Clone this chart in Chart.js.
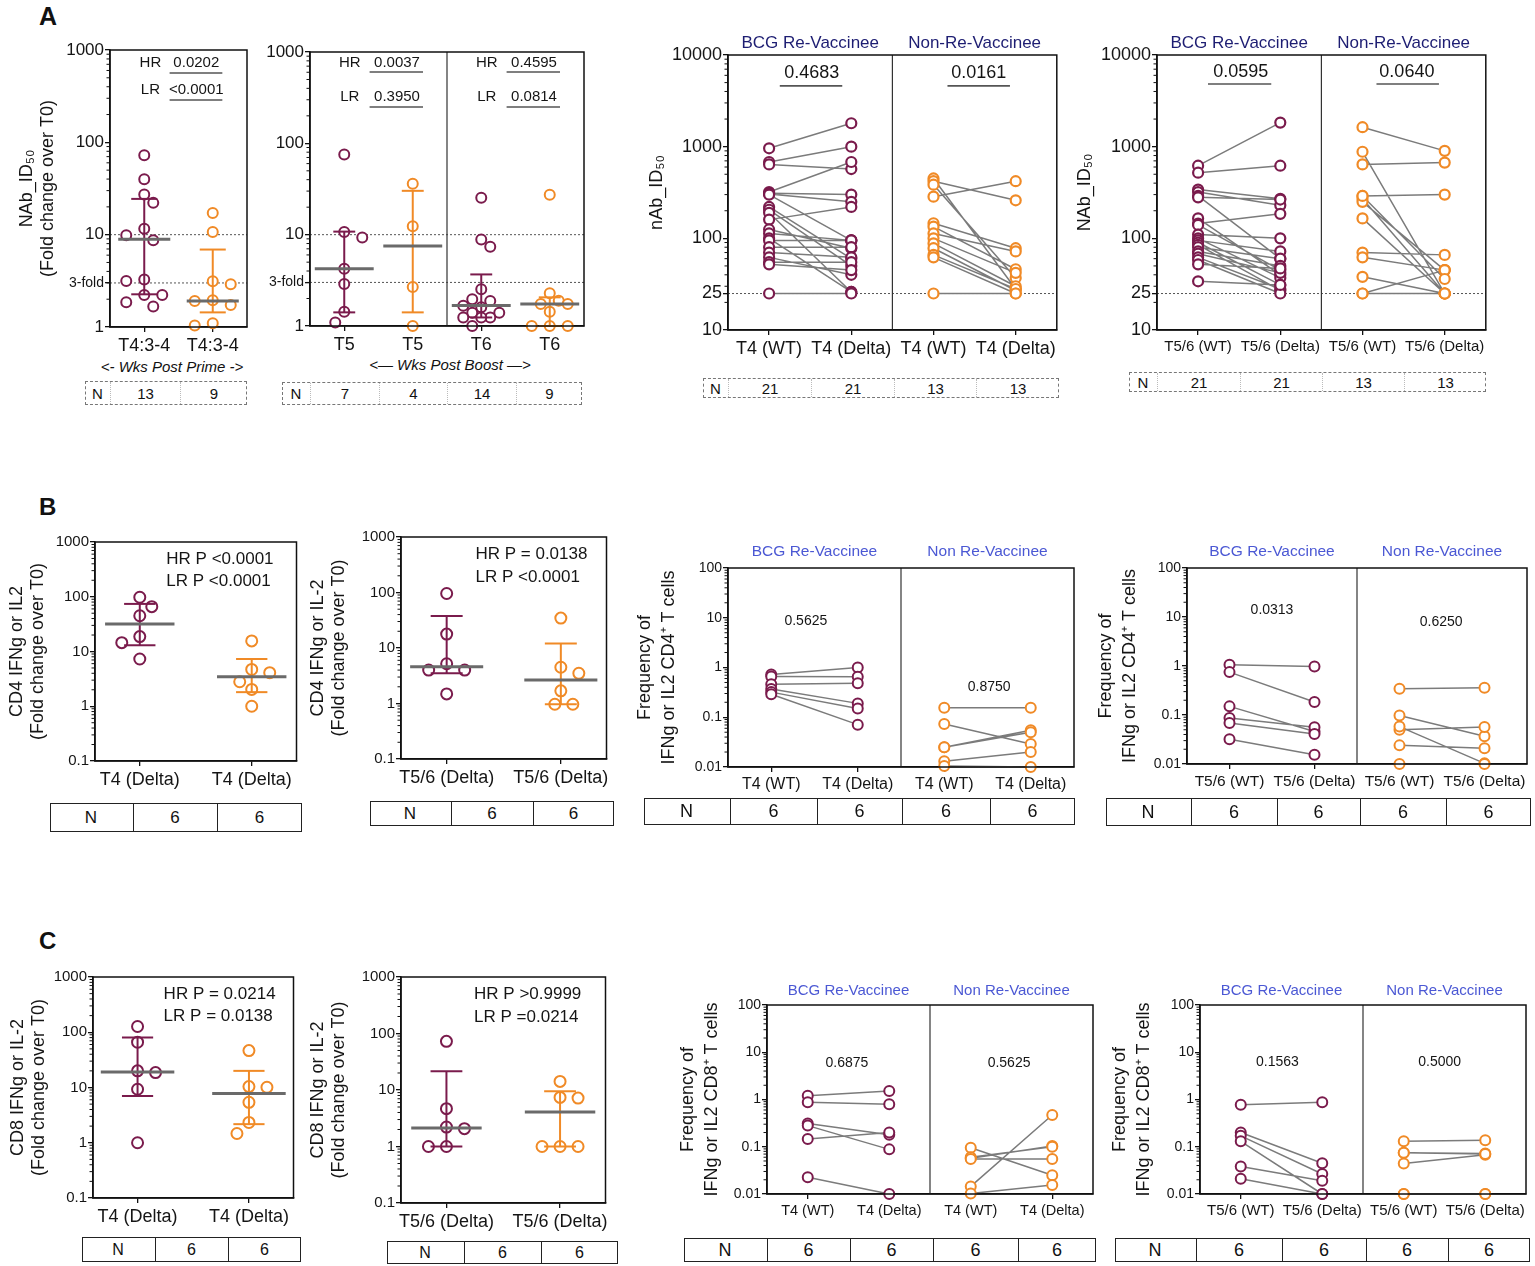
<!DOCTYPE html>
<html>
<head>
<meta charset="utf-8">
<title>Figure</title>
<script src="https://cdn.jsdelivr.net/npm/chart.js@4.4.1/dist/chart.umd.min.js"></script>
<style>
html,body{margin:0;padding:0;background:#fff;}
body{position:relative;width:1535px;height:1266px;overflow:hidden;font-family:"Liberation Sans",Arial,Helvetica,sans-serif;color:#111;}
canvas{position:absolute;}
.txt{position:absolute;white-space:nowrap;line-height:1;}
.letter{font-weight:bold;}
.ntab{position:absolute;box-sizing:border-box;}
.ntab div{position:absolute;top:0;box-sizing:border-box;display:flex;align-items:center;justify-content:center;height:100%;}
</style>
</head>
<body>
<div class="txt letter" style="left:39px;top:4px;font-size:25px;">A</div>
<div class="txt letter" style="left:39px;top:495px;font-size:24px;">B</div>
<div class="txt letter" style="left:39px;top:929px;font-size:24px;">C</div>
<div class="txt" style="left:92px;top:359px;width:160px;text-align:center;font-style:italic;font-size:15px;">&lt;- Wks Post Prime -&gt;</div>
<div class="txt" style="left:350px;top:357px;width:200px;text-align:center;font-style:italic;font-size:15px;">&lt;— Wks Post Boost —&gt;</div>
<script>
// ---------------- DATA ----------------
// Panel A1 (NAb fold change, post prime)
const a1Categories = ['T4:3-4', 'T4:3-4'];
const a1TickValues = [1, 3, 10, 100, 1000];
const a1TickLabels = ['1', '3-fold', '10', '100', '1000'];
const a1Bcg = [72.6, 39.9, 27.2, 22.1, 11.6, 9.86, 8.7, 3.26, 3.15, 2.22, 2.22, 1.85, 1.67];
const a1Non = [17.2, 10.7, 3.13, 2.9, 1.95, 1.91, 1.73, 1.1, 1.04];
const a1Median = [8.9, 1.91];
const a1Lo = [2.26, 1.44];
const a1Hi = [24.4, 6.9];
const a1N = ['N', '13', '9'];

// Panel A2 (NAb fold change, post boost)
const a2Categories = ['T5', 'T5', 'T6', 'T6'];
const a2T5Bcg = [75.4, 10.7, 9.3, 4.24, 2.88, 1.43, 1.09];
const a2T5Non = [36, 12.4, 2.67, 1.0];
const a2T6Bcg = [25.3, 8.87, 7.38, 2.52, 1.96, 1.88, 1.67, 1.6, 1.4, 1.4, 1.24, 1.24, 1.24, 1.0];
const a2T6Non = [27.3, 2.28, 1.89, 1.74, 1.74, 1.43, 1.0, 1.0, 1.0];
const a2Median = [4.24, 7.5, 1.68, 1.74];
const a2Lo = [1.41, 1.41, 1.24, 1.0];
const a2Hi = [10.8, 30.2, 3.67, 2.06];
const a2N = ['N', '7', '4', '14', '9'];

// Panel A3 (nAb ID50, T4 WT vs Delta)
const a3Categories = ['T4 (WT)', 'T4 (Delta)', 'T4 (WT)', 'T4 (Delta)'];
const a3TickValues = [10, 25, 100, 1000, 10000];
const a3TickLabels = ['10', '25', '100', '1000', '10000'];
const a3BcgWT    = [960, 680, 640, 320, 310, 305, 300, 220, 205, 190, 160, 125, 113, 100, 95, 80, 70, 62, 55, 52, 25];
const a3BcgDelta = [1800, 1000, 570, 680, 300, 250, 95, 60, 50, 26, 220, 78, 95, 26, 95, 80, 62, 40, 55, 45, 25];
const a3NonWT    = [285, 450, 420, 385, 146, 134, 113, 100, 88, 78, 66, 62, 25];
const a3NonDelta = [420, 28, 260, 37, 78, 46, 72, 42, 30, 27, 28, 25, 25];
const a3N = ['N', '21', '21', '13', '13'];

// Panel A4 (NAb ID50, T5/6 WT vs Delta)
const a4Categories = ['T5/6 (WT)', 'T5/6 (Delta)', 'T5/6 (WT)', 'T5/6 (Delta)'];
const a4BcgWT    = [620, 520, 340, 320, 290, 280, 165, 145, 140, 110, 100, 95, 90, 85, 80, 72, 68, 62, 58, 52, 34];
const a4BcgDelta = [1830, 620, 270, 230, 60, 265, 40, 185, 45, 100, 37, 72, 31, 27, 60, 50, 42, 28, 25, 47, 31];
const a4NonWT    = [1630, 880, 640, 290, 270, 250, 165, 70, 62, 38, 25, 25, 290];
const a4NonDelta = [900, 25, 670, 300, 25, 45, 25, 66, 45, 25, 45, 25, 36];
const a4N = ['N', '21', '21', '13', '13'];

// Row B/C shared ticks
const foldTickValues = [0.1, 1, 10, 100, 1000];
const foldTickLabels = ['0.1', '1', '10', '100', '1000'];
const freqTickValues = [0.01, 0.1, 1, 10, 100];
const freqTickLabels = ['0.01', '0.1', '1', '10', '100'];

// Panel B1 (CD4 fold change, T4)
const b1Categories = ['T4 (Delta)', 'T4 (Delta)'];
const b1Bcg = [98, 66, 45, 18.7, 14.5, 7.3];
const b1Non = [15.6, 4.7, 4.1, 2.8, 2.03, 1.0];
const b1Median = [31.9, 3.46];
const b1Lo = [13, 1.81];
const b1Hi = [74, 7.3];
const b1N = ['N', '6', '6'];

// Panel B2 (CD4 fold change, T5/6)
const b2Categories = ['T5/6 (Delta)', 'T5/6 (Delta)'];
const b2Bcg = [96, 17.8, 5.2, 4.0, 4.0, 1.49];
const b2Non = [34.6, 4.5, 3.5, 1.69, 0.97, 0.97];
const b2Median = [4.6, 2.66];
const b2Lo = [3.5, 0.97];
const b2Hi = [37.6, 12.1];
const b2N = ['N', '6', '6'];

// Panel B3 (CD4 frequency, T4)
const b3Categories = ['T4 (WT)', 'T4 (Delta)', 'T4 (WT)', 'T4 (Delta)'];
const b3BcgWT    = [0.72, 0.66, 0.46, 0.37, 0.32, 0.29];
const b3BcgDelta = [1.0, 0.65, 0.48, 0.19, 0.15, 0.071];
const b3NonWT    = [0.155, 0.073, 0.025, 0.025, 0.013, 0.0105];
const b3NonDelta = [0.155, 0.029, 0.055, 0.05, 0.02, 0.01];
const b3N = ['N', '6', '6', '6', '6'];

// Panel B4 (CD4 frequency, T5/6)
const b4Categories = ['T5/6 (WT)', 'T5/6 (Delta)', 'T5/6 (WT)', 'T5/6 (Delta)'];
const b4BcgWT    = [1.06, 0.75, 0.15, 0.087, 0.069, 0.032];
const b4BcgDelta = [0.98, 0.184, 0.046, 0.056, 0.041, 0.0155];
const b4NonWT    = [0.345, 0.098, 0.05, 0.058, 0.024, 0.01];
const b4NonDelta = [0.36, 0.037, 0.057, 0.0103, 0.021, 0.01];
const b4N = ['N', '6', '6', '6', '6'];

// Panel C1 (CD8 fold change, T4)
const c1Categories = ['T4 (Delta)', 'T4 (Delta)'];
const c1Bcg = [127, 66, 20, 18.6, 9.3, 1.0];
const c1Non = [46.6, 10.4, 10.1, 5.4, 2.33, 1.47];
const c1Median = [19.1, 7.8];
const c1Lo = [7.0, 2.17];
const c1Hi = [80, 20];
const c1N = ['N', '6', '6'];

// Panel C2 (CD8 fold change, T5/6)
const c2Categories = ['T5/6 (Delta)', 'T5/6 (Delta)'];
const c2Bcg = [72.7, 4.67, 2.21, 2.07, 1.0, 1.0];
const c2Non = [14.2, 7.4, 7.2, 1.0, 1.0, 1.0];
const c2Median = [2.12, 4.08];
const c2Lo = [1.0, 1.0];
const c2Hi = [21.4, 9.5];
const c2N = ['N', '6', '6'];

// Panel C3 (CD8 frequency, T4)
const c3Categories = ['T4 (WT)', 'T4 (Delta)', 'T4 (WT)', 'T4 (Delta)'];
const c3BcgWT    = [1.2, 0.87, 0.31, 0.28, 0.146, 0.0225];
const c3BcgDelta = [1.51, 0.79, 0.18, 0.088, 0.2, 0.01];
const c3NonWT    = [0.095, 0.057, 0.06, 0.055, 0.0145, 0.0102];
const c3NonDelta = [0.025, 0.104, 0.1, 0.055, 0.47, 0.0155];
const c3N = ['N', '6', '6', '6', '6'];

// Panel C4 (CD8 frequency, T5/6)
const c4Categories = ['T5/6 (WT)', 'T5/6 (Delta)', 'T5/6 (WT)', 'T5/6 (Delta)'];
const c4BcgWT    = [0.77, 0.2, 0.17, 0.13, 0.038, 0.021];
const c4BcgDelta = [0.87, 0.0446, 0.0265, 0.01, 0.019, 0.01];
const c4NonWT    = [0.13, 0.075, 0.044, 0.01, 0.01, 0.075];
const c4NonDelta = [0.137, 0.072, 0.068, 0.01, 0.01, 0.07];
const c4N = ['N', '6', '6', '6', '6'];

// ---------------- STYLE ----------------
const FONT = '"Liberation Sans", Arial, Helvetica, sans-serif';
const MAROON = '#7a1b4c';
const ORANGE = '#f08a26';
const NAVY = '#1d1d72';
const BLUE = '#4b58d4';
Chart.defaults.font.family = FONT;
Chart.defaults.color = '#111';

function seg(ctx, x1, y1, x2, y2) { ctx.beginPath(); ctx.moveTo(x1, y1); ctx.lineTo(x2, y2); ctx.stroke(); }

function decor(p) {
  return {
    id: 'decor_' + p.id,
    beforeDatasetsDraw(chart) {
      const { ctx, chartArea: a, scales: { x, y } } = chart;
      ctx.save();
      ctx.lineWidth = 1; ctx.strokeStyle = '#555'; ctx.setLineDash([2, 2]);
      (p.refLines || []).forEach(v => { const py = y.getPixelForValue(v); seg(ctx, a.left, py, a.right, py); });
      ctx.setLineDash([]);
      ctx.strokeStyle = '#333'; ctx.lineWidth = 1.2;
      (p.dividers || []).forEach(v => { const px = x.getPixelForValue(v); seg(ctx, px, a.top, px, a.bottom); });
      ctx.restore();
    },
    afterDatasetsDraw(chart) {
      const { ctx, chartArea: a, scales: { x, y } } = chart;
      const unit = x.getPixelForValue(1) - x.getPixelForValue(0);
      ctx.save();
      // error bars and medians
      (p.groups || []).forEach(g => {
        if (g.med == null) return;
        const cx = x.getPixelForValue(g.cat);
        const yl = y.getPixelForValue(g.lo), yh = y.getPixelForValue(g.hi), ym = y.getPixelForValue(g.med);
        ctx.strokeStyle = g.color; ctx.lineWidth = 2;
        seg(ctx, cx, yl, cx, yh);
        seg(ctx, cx - p.capHalf * unit, yh, cx + p.capHalf * unit, yh);
        seg(ctx, cx - p.capHalf * unit, yl, cx + p.capHalf * unit, yl);
        ctx.strokeStyle = '#6a6a6a'; ctx.lineWidth = 3;
        seg(ctx, cx - p.medHalf * unit, ym, cx + p.medHalf * unit, ym);
      });
      // frame
      ctx.strokeStyle = '#111'; ctx.lineWidth = 1.5;
      ctx.strokeRect(a.left, a.top, a.right - a.left, a.bottom - a.top);
      // minor log ticks
      ctx.lineWidth = 1;
      const e0 = Math.floor(Math.log10(p.ymin)), e1 = Math.ceil(Math.log10(p.ymax));
      for (let e = e0; e < e1; e++) {
        for (let k = 2; k <= 9; k++) {
          const v = k * Math.pow(10, e);
          if (v <= p.ymin || v >= p.ymax) continue;
          const py = y.getPixelForValue(v);
          seg(ctx, a.left - 3.5, py, a.left, py);
        }
      }
      // bracket lines
      ctx.strokeStyle = '#555'; ctx.lineWidth = 1.6;
      (p.lines || []).forEach(l => { const py = y.getPixelForValue(l.y); seg(ctx, x.getPixelForValue(l.x1), py, x.getPixelForValue(l.x2), py); });
      // texts
      ctx.fillStyle = '#151515'; ctx.textBaseline = 'middle';
      (p.texts || []).forEach(t => {
        ctx.font = (t.size || p.textSize) + 'px ' + FONT;
        ctx.textAlign = t.align || 'center';
        ctx.fillText(t.text, x.getPixelForValue(t.x), y.getPixelForValue(t.y));
      });
      // group headers
      if (p.headers) {
        ctx.font = p.headerFont + 'px ' + FONT; ctx.fillStyle = p.headerColor; ctx.textAlign = 'center';
        p.headers.forEach(h => ctx.fillText(h.text, x.getPixelForValue(h.x), a.top - p.headerOffset));
      }
      ctx.restore();
    }
  };
}

function makeChart(p) {
  const tp = p.tp || 40, rp = p.rp || 6, bh = p.bh || 34;
  const xPad = p.xPad != null ? p.xPad : 0.5;
  const box = { x: p.cl, y: p.t - tp, w: p.r + rp - p.cl, h: (p.b + bh) - (p.t - tp) };
  const cv = document.createElement('canvas');
  cv.width = box.w; cv.height = box.h;
  cv.style.left = box.x + 'px'; cv.style.top = box.y + 'px';
  cv.style.width = box.w + 'px'; cv.style.height = box.h + 'px';
  document.body.appendChild(cv);
  const gridOpts = { display: true, drawOnChartArea: false, drawTicks: true, tickLength: 5, color: '#111', lineWidth: 1.3 };
  const borderOpts = { display: true, color: '#111', width: 1.5 };
  const cfg = {
    type: 'scatter',
    data: { datasets: p.datasets },
    options: {
      responsive: false, animation: false, events: [],
      layout: { padding: { left: 0, top: tp, right: rp, bottom: 0 } },
      plugins: { legend: { display: false }, tooltip: { enabled: false }, title: { display: false } },
      scales: {
        x: {
          type: 'linear', min: -xPad, max: p.cats.length - 1 + xPad,
          afterFit: s => { s.height = bh; },
          afterBuildTicks: s => { s.ticks = p.cats.map((c, i) => ({ value: i })); },
          ticks: { callback: (v, i) => p.cats[i], font: { family: FONT, size: p.xFont }, color: '#151515', padding: 3, autoSkip: false, maxRotation: 0, minRotation: 0 },
          grid: gridOpts, border: borderOpts
        },
        y: {
          type: 'logarithmic', min: p.ymin, max: p.ymax,
          afterFit: s => { s.width = p.l - p.cl; },
          afterBuildTicks: s => { s.ticks = p.yTicks.map(v => ({ value: v })); },
          ticks: {
            callback: (v, i) => p.yLabels[i],
            font: ctx => ({ family: FONT, size: (p.smallTick != null && ctx.tick && ctx.tick.value === p.smallTick) ? p.smallTickFont : p.tickFont }),
            color: '#151515', padding: 1, autoSkip: false
          },
          grid: gridOpts, border: borderOpts,
          title: { display: !!p.yTitle, text: p.yTitle || '', align: 'center', font: { family: FONT, size: p.yTitleFont || 18, lineHeight: p.yTitleLH || 1.2 }, color: '#151515', padding: 0 }
        }
      }
    },
    plugins: [decor(p)]
  };
  return new Chart(cv.getContext('2d'), cfg);
}

// beeswarm layout: spread coincident points sideways, at most maxK steps
function swarm(chart, ds, cat, step, minDist, maxK) {
  const ys = chart.scales.y, xs = chart.scales.x;
  const unit = xs.getPixelForValue(1) - xs.getPixelForValue(0);
  const placed = [];
  let flip = 1;
  ds.data.forEach(pt => {
    const py = ys.getPixelForValue(pt.y);
    let chosen = null, best = null, bestD = -1;
    for (let k = 0; k <= maxK && chosen === null; k++) {
      const cands = k === 0 ? [0] : [flip * k, -flip * k];
      for (const c of cands) {
        const px = c * step;
        const d = placed.length ? Math.min(...placed.map(q => Math.hypot(q.x - px, q.y - py))) : Infinity;
        if (d >= minDist) { chosen = c; break; }
        if (d > bestD) { bestD = d; best = c; }
      }
    }
    if (chosen === null) chosen = best;
    if (chosen !== 0) flip = -Math.sign(chosen);
    placed.push({ x: chosen * step, y: py });
    pt.x = cat + chosen * step / unit;
  });
}

function foldPanel(p) {
  p.datasets = p.groups.map(g => ({
    data: g.values.map(v => ({ x: g.cat, y: v })),
    showLine: false, clip: false, pointRadius: p.radius, pointBorderWidth: p.bw,
    pointBorderColor: g.color, pointBackgroundColor: '#ffffff'
  }));
  const ch = makeChart(p);
  ch.data.datasets.forEach((ds, i) => swarm(ch, ds, p.groups[i].cat, p.step, p.minDist, p.maxK || 3));
  ch.update('none');
  return ch;
}

function pairedPanel(p) {
  p.datasets = p.groups.map(g => ({
    data: g.wt.flatMap((w, i) => [{ x: g.c0, y: w }, { x: g.c1, y: g.delta[i] }, { x: g.c0 + 0.5, y: null }]),
    showLine: true, spanGaps: false, clip: false, borderColor: '#7b7b7b', borderWidth: 1.5,
    pointRadius: p.radius, pointBorderWidth: p.bw, pointBorderColor: g.color, pointBackgroundColor: '#ffffff'
  }));
  return makeChart(p);
}

function nTable(edges, top, h, values, kind, size) {
  const t = document.createElement('div');
  t.className = 'ntab';
  t.style.left = edges[0] + 'px'; t.style.top = top + 'px';
  t.style.width = (edges[edges.length - 1] - edges[0]) + 'px'; t.style.height = h + 'px';
  t.style.border = kind === 'dash' ? '1px dashed #777' : '1.5px solid #222';
  t.style.fontSize = size + 'px';
  values.forEach((v, i) => {
    const c = document.createElement('div');
    c.textContent = v;
    c.style.left = (edges[i] - edges[0] - (kind === 'dash' ? 1 : 1.5)) + 'px';
    c.style.width = (edges[i + 1] - edges[i]) + 'px';
    if (i > 0) c.style.borderLeft = kind === 'dash' ? '1px dotted #bbb' : '1.5px solid #222';
    t.appendChild(c);
  });
  document.body.appendChild(t);
}

// ---------------- PANELS ----------------
// A1
foldPanel({
  id: 'a1', l: 110, t: 50, r: 248, b: 327, cl: 16, bh: 34,
  cats: a1Categories, ymin: 1, ymax: 1000, yTicks: a1TickValues, yLabels: a1TickLabels,
  tickFont: 17, smallTick: 3, smallTickFont: 14, xFont: 18,
  yTitle: ['NAb_ID\u2085\u2080', '(Fold change over T0)'], yTitleFont: 18,
  refLines: [10, 3], radius: 5, bw: 2, step: 9, minDist: 12, maxK: 2, capHalf: 0.19, medHalf: 0.38, textSize: 15,
  groups: [
    { cat: 0, values: a1Bcg, color: MAROON, med: a1Median[0], lo: a1Lo[0], hi: a1Hi[0] },
    { cat: 1, values: a1Non, color: ORANGE, med: a1Median[1], lo: a1Lo[1], hi: a1Hi[1] }
  ],
  texts: [
    { x: 0.09, y: 723, text: 'HR' }, { x: 0.76, y: 723, text: '0.0202' },
    { x: 0.09, y: 369, text: 'LR' }, { x: 0.76, y: 369, text: '<0.0001' }
  ],
  lines: [{ x1: 0.37, x2: 1.14, y: 563 }, { x1: 0.37, x2: 1.14, y: 287 }]
});

// A2
foldPanel({
  id: 'a2', l: 310, t: 52, r: 585, b: 326, cl: 255, bh: 34,
  cats: a2Categories, ymin: 1, ymax: 1000, yTicks: a1TickValues, yLabels: a1TickLabels,
  tickFont: 17, smallTick: 3, smallTickFont: 14, xFont: 18,
  refLines: [10, 3], dividers: [1.5], radius: 5, bw: 2, step: 9, minDist: 11, maxK: 2, capHalf: 0.16, medHalf: 0.43, textSize: 15,
  groups: [
    { cat: 0, values: a2T5Bcg, color: MAROON, med: a2Median[0], lo: a2Lo[0], hi: a2Hi[0] },
    { cat: 1, values: a2T5Non, color: ORANGE, med: a2Median[1], lo: a2Lo[1], hi: a2Hi[1] },
    { cat: 2, values: a2T6Bcg, color: MAROON, med: a2Median[2], lo: a2Lo[2], hi: a2Hi[2] },
    { cat: 3, values: a2T6Non, color: ORANGE, med: a2Median[3], lo: a2Lo[3], hi: a2Hi[3] }
  ],
  texts: [
    { x: 0.08, y: 758, text: 'HR' }, { x: 0.77, y: 758, text: '0.0037' },
    { x: 0.08, y: 322, text: 'LR' }, { x: 0.77, y: 322, text: '0.3950' },
    { x: 2.08, y: 758, text: 'HR' }, { x: 2.77, y: 758, text: '0.4595' },
    { x: 2.08, y: 322, text: 'LR' }, { x: 2.77, y: 322, text: '0.0814' }
  ],
  lines: [
    { x1: 0.37, x2: 1.15, y: 604 }, { x1: 0.37, x2: 1.15, y: 250 },
    { x1: 2.37, x2: 3.15, y: 604 }, { x1: 2.37, x2: 3.15, y: 250 }
  ]
});

// A3
pairedPanel({
  id: 'a3', l: 728, t: 55, r: 1058, b: 330, cl: 646, bh: 34,
  cats: a3Categories, ymin: 10, ymax: 10000, yTicks: a3TickValues, yLabels: a3TickLabels,
  tickFont: 18, xFont: 18, yTitle: 'nAb_ID\u2085\u2080', yTitleFont: 18,
  refLines: [25], dividers: [1.5], radius: 5, bw: 2.2, textSize: 18,
  headers: [{ x: 0.5, text: 'BCG Re-Vaccinee' }, { x: 2.5, text: 'Non-Re-Vaccinee' }],
  headerOffset: 12, headerFont: 17, headerColor: NAVY,
  groups: [
    { c0: 0, c1: 1, wt: a3BcgWT, delta: a3BcgDelta, color: MAROON },
    { c0: 2, c1: 3, wt: a3NonWT, delta: a3NonDelta, color: ORANGE }
  ],
  texts: [{ x: 0.52, y: 6300, text: '0.4683' }, { x: 2.55, y: 6300, text: '0.0161' }],
  lines: [{ x1: 0.13, x2: 0.89, y: 4600 }, { x1: 2.17, x2: 2.93, y: 4600 }]
});

// A4
pairedPanel({
  id: 'a4', l: 1157, t: 55, r: 1487, b: 330, cl: 1074, bh: 34,
  cats: a4Categories, ymin: 10, ymax: 10000, yTicks: a3TickValues, yLabels: a3TickLabels,
  tickFont: 18, xFont: 15, yTitle: 'NAb_ID\u2085\u2080', yTitleFont: 18,
  refLines: [25], dividers: [1.5], radius: 5, bw: 2.2, textSize: 18,
  headers: [{ x: 0.5, text: 'BCG Re-Vaccinee' }, { x: 2.5, text: 'Non-Re-Vaccinee' }],
  headerOffset: 12, headerFont: 17, headerColor: NAVY,
  groups: [
    { c0: 0, c1: 1, wt: a4BcgWT, delta: a4BcgDelta, color: MAROON },
    { c0: 2, c1: 3, wt: a4NonWT, delta: a4NonDelta, color: ORANGE }
  ],
  texts: [{ x: 0.52, y: 6530, text: '0.0595' }, { x: 2.54, y: 6530, text: '0.0640' }],
  lines: [{ x1: 0.12, x2: 0.89, y: 4830 }, { x1: 2.17, x2: 2.93, y: 4830 }]
});

// B1
foldPanel({
  id: 'b1', l: 95, t: 542, r: 298, b: 761, cl: 6, bh: 34, xPad: 0.4,
  cats: b1Categories, ymin: 0.1, ymax: 1000, yTicks: foldTickValues, yLabels: foldTickLabels,
  tickFont: 15, xFont: 18, yTitle: ['CD4 IFNg or IL2', '(Fold change over T0)'], yTitleFont: 18,
  radius: 5.5, bw: 2, step: 6, minDist: 14, capHalf: 0.14, medHalf: 0.31, textSize: 17,
  groups: [
    { cat: 0, values: b1Bcg, color: MAROON, med: b1Median[0], lo: b1Lo[0], hi: b1Hi[0] },
    { cat: 1, values: b1Non, color: ORANGE, med: b1Median[1], lo: b1Lo[1], hi: b1Hi[1] }
  ],
  texts: [{ x: 0.237, y: 490, text: 'HR P <0.0001', align: 'left' }, { x: 0.237, y: 194, text: 'LR P <0.0001', align: 'left' }]
});

// B2
foldPanel({
  id: 'b2', l: 401, t: 537, r: 608, b: 759, cl: 307, bh: 34, xPad: 0.4,
  cats: b2Categories, ymin: 0.1, ymax: 1000, yTicks: foldTickValues, yLabels: foldTickLabels,
  tickFont: 15, xFont: 18, yTitle: ['CD4 IFNg or IL-2', '(Fold change over T0)'], yTitleFont: 18,
  radius: 5.5, bw: 2, step: 6, minDist: 14, capHalf: 0.14, medHalf: 0.32, textSize: 17,
  groups: [
    { cat: 0, values: b2Bcg, color: MAROON, med: b2Median[0], lo: b2Lo[0], hi: b2Hi[0] },
    { cat: 1, values: b2Non, color: ORANGE, med: b2Median[1], lo: b2Lo[1], hi: b2Hi[1] }
  ],
  texts: [{ x: 0.252, y: 494, text: 'HR P = 0.0138', align: 'left' }, { x: 0.252, y: 190, text: 'LR P <0.0001', align: 'left' }]
});

// B3
pairedPanel({
  id: 'b3', l: 728, t: 568, r: 1075, b: 767, cl: 633, bh: 32,
  cats: b3Categories, ymin: 0.01, ymax: 100, yTicks: freqTickValues, yLabels: freqTickLabels,
  tickFont: 14, xFont: 16, yTitle: ['Frequency of', 'IFNg or IL2 CD4\u207A T cells'], yTitleFont: 18, yTitleLH: 1.35,
  dividers: [1.5], radius: 5, bw: 2, textSize: 14,
  headers: [{ x: 0.5, text: 'BCG Re-Vaccinee' }, { x: 2.5, text: 'Non Re-Vaccinee' }],
  headerOffset: 16, headerFont: 15.5, headerColor: BLUE,
  groups: [
    { c0: 0, c1: 1, wt: b3BcgWT, delta: b3BcgDelta, color: MAROON },
    { c0: 2, c1: 3, wt: b3NonWT, delta: b3NonDelta, color: ORANGE }
  ],
  texts: [{ x: 0.4, y: 8.6, text: '0.5625' }, { x: 2.52, y: 0.405, text: '0.8750' }]
});

// B4
pairedPanel({
  id: 'b4', l: 1187, t: 568, r: 1531, b: 764, cl: 1094, rp: 3, bh: 32,
  cats: b4Categories, ymin: 0.01, ymax: 100, yTicks: freqTickValues, yLabels: freqTickLabels,
  tickFont: 14, xFont: 15.5, yTitle: ['Frequency of', 'IFNg or IL2 CD4\u207A T cells'], yTitleFont: 18, yTitleLH: 1.35,
  dividers: [1.5], radius: 5, bw: 2, textSize: 14,
  headers: [{ x: 0.5, text: 'BCG Re-Vaccinee' }, { x: 2.5, text: 'Non Re-Vaccinee' }],
  headerOffset: 16, headerFont: 15.5, headerColor: BLUE,
  groups: [
    { c0: 0, c1: 1, wt: b4BcgWT, delta: b4BcgDelta, color: MAROON },
    { c0: 2, c1: 3, wt: b4NonWT, delta: b4NonDelta, color: ORANGE }
  ],
  texts: [{ x: 0.5, y: 13.9, text: '0.0313' }, { x: 2.49, y: 7.9, text: '0.6250' }]
});

// C1
foldPanel({
  id: 'c1', l: 93, t: 977, r: 295, b: 1198, cl: 7, bh: 34, xPad: 0.4,
  cats: c1Categories, ymin: 0.1, ymax: 1000, yTicks: foldTickValues, yLabels: foldTickLabels,
  tickFont: 15, xFont: 18, yTitle: ['CD8 IFNg or IL-2', '(Fold change over T0)'], yTitleFont: 18,
  radius: 5.5, bw: 2, step: 6, minDist: 14, capHalf: 0.14, medHalf: 0.33, textSize: 17,
  groups: [
    { cat: 0, values: c1Bcg, color: MAROON, med: c1Median[0], lo: c1Lo[0], hi: c1Hi[0] },
    { cat: 1, values: c1Non, color: ORANGE, med: c1Median[1], lo: c1Lo[1], hi: c1Hi[1] }
  ],
  texts: [{ x: 0.234, y: 493, text: 'HR P = 0.0214', align: 'left' }, { x: 0.234, y: 197, text: 'LR P = 0.0138', align: 'left' }]
});

// C2
foldPanel({
  id: 'c2', l: 401, t: 977, r: 607, b: 1203, cl: 307, bh: 34, xPad: 0.4,
  cats: c2Categories, ymin: 0.1, ymax: 1000, yTicks: foldTickValues, yLabels: foldTickLabels,
  tickFont: 15, xFont: 18, yTitle: ['CD8 IFNg or IL-2', '(Fold change over T0)'], yTitleFont: 18,
  radius: 5.5, bw: 2, step: 6, minDist: 14, capHalf: 0.14, medHalf: 0.31, textSize: 17,
  groups: [
    { cat: 0, values: c2Bcg, color: MAROON, med: c2Median[0], lo: c2Lo[0], hi: c2Hi[0] },
    { cat: 1, values: c2Non, color: ORANGE, med: c2Median[1], lo: c2Lo[1], hi: c2Hi[1] }
  ],
  texts: [{ x: 0.243, y: 500, text: 'HR P >0.9999', align: 'left' }, { x: 0.243, y: 196, text: 'LR P =0.0214', align: 'left' }]
});

// C3
pairedPanel({
  id: 'c3', l: 767, t: 1005, r: 1094, b: 1194, cl: 676, bh: 32,
  cats: c3Categories, ymin: 0.01, ymax: 100, yTicks: freqTickValues, yLabels: freqTickLabels,
  tickFont: 14, xFont: 14.5, yTitle: ['Frequency of', 'IFNg or IL2 CD8\u207A T cells'], yTitleFont: 18, yTitleLH: 1.35,
  dividers: [1.5], radius: 5, bw: 2, textSize: 14,
  headers: [{ x: 0.5, text: 'BCG Re-Vaccinee' }, { x: 2.5, text: 'Non Re-Vaccinee' }],
  headerOffset: 14, headerFont: 15, headerColor: BLUE,
  groups: [
    { c0: 0, c1: 1, wt: c3BcgWT, delta: c3BcgDelta, color: MAROON },
    { c0: 2, c1: 3, wt: c3NonWT, delta: c3NonDelta, color: ORANGE }
  ],
  texts: [{ x: 0.48, y: 5.9, text: '0.6875' }, { x: 2.47, y: 5.9, text: '0.5625' }]
});

// C4
pairedPanel({
  id: 'c4', l: 1200, t: 1005, r: 1529, b: 1194, cl: 1108, rp: 4, bh: 32,
  cats: c4Categories, ymin: 0.01, ymax: 100, yTicks: freqTickValues, yLabels: freqTickLabels,
  tickFont: 14, xFont: 15, yTitle: ['Frequency of', 'IFNg or IL2 CD8\u207A T cells'], yTitleFont: 18, yTitleLH: 1.35,
  dividers: [1.5], radius: 5, bw: 2, textSize: 14,
  headers: [{ x: 0.5, text: 'BCG Re-Vaccinee' }, { x: 2.5, text: 'Non Re-Vaccinee' }],
  headerOffset: 14, headerFont: 15, headerColor: BLUE,
  groups: [
    { c0: 0, c1: 1, wt: c4BcgWT, delta: c4BcgDelta, color: MAROON },
    { c0: 2, c1: 3, wt: c4NonWT, delta: c4NonDelta, color: ORANGE }
  ],
  texts: [{ x: 0.45, y: 6.2, text: '0.1563' }, { x: 2.44, y: 6.2, text: '0.5000' }]
});

// ---------------- N TABLES ----------------
nTable([85, 110, 180, 247], 381, 24, a1N, 'dash', 15);
nTable([282, 310, 379, 447, 516, 582], 382, 23, a2N, 'dash', 15);
nTable([703, 728, 811, 894, 976, 1059], 378, 20, a3N, 'dash', 15);
nTable([1129, 1157, 1240, 1322, 1404, 1486], 372, 20, a4N, 'dash', 15);
nTable([50, 133, 217, 302], 803, 29, b1N, 'solid', 17);
nTable([370, 451, 533, 614], 801, 25, b2N, 'solid', 17);
nTable([644, 730, 817, 902, 990, 1075], 798, 27, b3N, 'solid', 18);
nTable([1106, 1191, 1277, 1360, 1446, 1531], 798, 28, b4N, 'solid', 18);
nTable([82, 155, 228, 301], 1237, 25, c1N, 'solid', 16);
nTable([387, 464, 541, 618], 1241, 23, c2N, 'solid', 16);
nTable([684, 767, 850, 933, 1018, 1096], 1238, 24, c3N, 'solid', 18);
nTable([1115, 1196, 1282, 1366, 1448, 1530], 1238, 24, c4N, 'solid', 18);
</script>
</body>
</html>
